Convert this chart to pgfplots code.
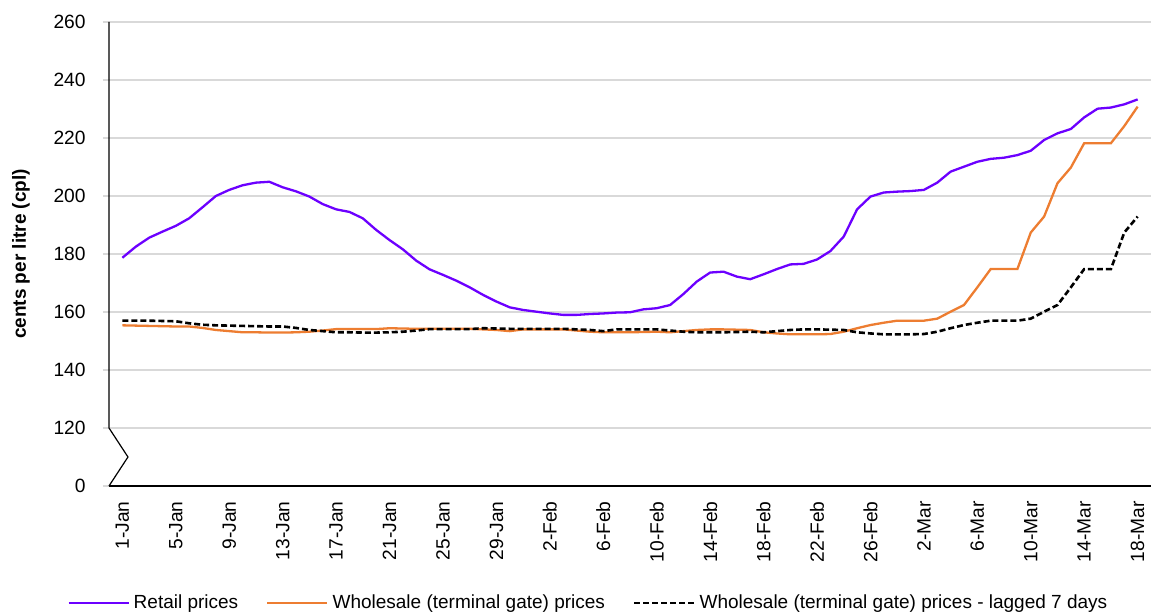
\documentclass[border=0pt]{standalone}
\usepackage{fontspec}
\setmainfont{Liberation Sans}
\usepackage{pgfplots}
\pgfplotsset{compat=1.18}
\usepackage{pgfplotstable}

\definecolor{retail}{RGB}{108,0,255}
\definecolor{wholesale}{RGB}{237,125,49}
\definecolor{gridgray}{RGB}{217,217,217}

% day index (0 = 1-Jan), cents per litre
\pgfplotstableread{
d retail wholesale lagged
0 178.7 155.4 157.0
1 182.5 155.3 157.0
2 185.6 155.2 157.0
3 187.7 155.1 156.9
4 189.7 155.0 156.8
5 192.3 155.0 156.1
6 196.1 154.5 155.6
7 200.0 153.8 155.4
8 202.1 153.4 155.3
9 203.7 153.0 155.2
10 204.6 153.0 155.1
11 204.9 152.9 155.0
12 203.0 152.9 155.0
13 201.6 153.0 154.5
14 199.8 153.2 153.8
15 197.2 153.6 153.4
16 195.4 154.1 153.0
17 194.5 154.1 153.0
18 192.3 154.1 152.9
19 188.3 154.1 152.9
20 184.8 154.4 153.0
21 181.6 154.3 153.2
22 177.7 154.2 153.6
23 174.7 154.2 154.1
24 172.8 154.2 154.1
25 170.8 154.2 154.1
26 168.5 154.2 154.1
27 165.9 154.0 154.4
28 163.6 153.8 154.3
29 161.6 153.4 154.2
30 160.7 154.0 154.2
31 160.1 154.0 154.2
32 159.5 154.0 154.2
33 159.0 154.0 154.2
34 159.0 153.6 154.0
35 159.3 153.2 153.8
36 159.5 153.0 153.4
37 159.8 153.0 154.0
38 159.9 153.0 154.0
39 160.9 153.1 154.0
40 161.3 153.2 154.0
41 162.4 153.0 153.6
42 166.2 153.4 153.2
43 170.5 153.8 153.0
44 173.6 154.0 153.0
45 173.9 154.0 153.0
46 172.2 153.9 153.1
47 171.3 153.8 153.2
48 173.0 153.0 153.0
49 174.8 152.6 153.4
50 176.4 152.3 153.8
51 176.6 152.3 154.0
52 178.1 152.3 154.0
53 181.0 152.4 153.9
54 186.0 153.2 153.8
55 195.4 154.4 153.0
56 199.8 155.5 152.6
57 201.2 156.3 152.3
58 201.5 157.0 152.3
59 201.7 157.0 152.3
60 202.1 157.0 152.4
61 204.6 157.7 153.2
62 208.4 160.1 154.4
63 210.1 162.4 155.5
64 211.8 168.5 156.3
65 212.8 174.8 157.0
66 213.2 174.8 157.0
67 214.1 174.8 157.0
68 215.6 187.4 157.7
69 219.3 192.9 160.1
70 221.6 204.4 162.4
71 223.1 209.8 168.5
72 227.1 218.2 174.8
73 230.1 218.2 174.8
74 230.5 218.2 174.8
75 231.6 224.1 187.4
76 233.3 230.8 192.9
}\prices

\begin{document}
\begin{tikzpicture}
\begin{axis}[
    scale only axis,
    width=521pt, height=232pt,
    at={(0,0)}, anchor=south west,
    xmin=-1, xmax=77,
    ymin=100, ymax=260,
    clip=false,
    axis x line*=bottom,
    axis y line*=left,
    x axis line style={-, black, line width=0.6pt},
    y axis line style={draw=none},
    xtick={0,4,...,76},
    xticklabels={1-Jan,5-Jan,9-Jan,13-Jan,17-Jan,21-Jan,25-Jan,29-Jan,2-Feb,6-Feb,10-Feb,14-Feb,18-Feb,22-Feb,26-Feb,2-Mar,6-Mar,10-Mar,14-Mar,18-Mar},
    ytick={100,120,...,260},
    yticklabels={0,120,140,160,180,200,220,240,260},
    xtick style={draw=none},
    ytick style={draw=gridgray, line width=0.7pt},
    tick align=outside,
    major tick length=3pt,
    ymajorgrids,
    grid style={gridgray, line width=0.7pt},
    tick label style={font=\fontsize{9.6}{11}\selectfont},
    xticklabel style={rotate=90, anchor=east, inner sep=0pt},
    xticklabel shift=4.5pt,
    yticklabel style={anchor=east, inner sep=0pt},
    yticklabel shift=8.5pt,
    ylabel={cents per litre (cpl)},
    every axis y label/.style={at={(axis description cs:-0.0845,0.5)}, rotate=90, anchor=center, font=\bfseries\fontsize{9.5}{11}\selectfont},
    legend columns=-1,
    legend style={at={(0.461,-0.252)}, anchor=center, draw=none, fill=none,
        font=\fontsize{9.5}{11}\selectfont,
        /tikz/every even column/.append style={column sep=12pt},
        nodes={inner xsep=2pt}},
    legend image code/.code={\draw[#1] (0pt,0pt) -- (30pt,0pt);},
]
\addplot[retail, line width=1.15pt] table[x=d, y=retail] {\prices};
\addlegendentry{Retail prices}
\addplot[wholesale, line width=1.15pt] table[x=d, y=wholesale] {\prices};
\addlegendentry{Wholesale (terminal gate) prices}
\addplot[black, line width=1.3pt, dash pattern=on 3pt off 1.5pt] table[x=d, y=lagged] {\prices};
\addlegendentry{Wholesale (terminal gate) prices - lagged 7 days}
% broken y axis
\draw[black, line width=0.6pt] (axis cs:-1,260) -- (axis cs:-1,120) -- (axis cs:0.42,110) -- (axis cs:-1,100);
\end{axis}
\pgfresetboundingbox
\path[use as bounding box] (-54.5pt,-63.5pt) rectangle (521pt,243pt);
\end{tikzpicture}
\end{document}
